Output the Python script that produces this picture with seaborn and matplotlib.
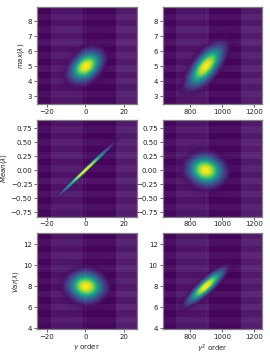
import numpy as np
import matplotlib
matplotlib.use("Agg")
import matplotlib.pyplot as plt
from matplotlib.colors import ListedColormap, LinearSegmentedColormap
import seaborn as sns

sns.set_style("white")
plt.rcParams.update({"font.size": 5, "mathtext.default": "it"})

# background tint bands
col_band_edges = [0.0, 0.14, 0.465, 0.79, 1.0]
col_band_tint = [0.0, 0.4, 0.0, 0.55]
row_band_tint = [0.0, 0.3, 0.0, 0.35, 0.05, 0.35, 0.0, 0.3, 0.0, 0.4, 0.0, 0.35, 0.0, 0.3, 0.1]

y_labels = [r"$max(\lambda)$", r"$Mean(\lambda)$", r"$Var(\lambda)$"]
x_labels = [r"$\gamma$ order", r"$\gamma^2$ order"]
x_ticks = [[-20, 0, 20], [800, 1000, 1200]]
x_limits = [(-25, 26.6), (628, 1250)]
y_limits = [(2.5, 8.95), (-0.83, 0.9), (3.9, 13.1)]
y_ticks = [[3, 4, 5, 6, 7, 8],
           [-0.75, -0.50, -0.25, 0.00, 0.25, 0.50, 0.75],
           [4, 6, 8, 10, 12]]
y_fmt = ["%d", "%.2f", "%d"]

# sample clouds (x, y) estimated for each panel
p11_x = [-3.7, -1.8, 0.3, 2.4, 4.3, 0.8, -0.2]
p11_y = [4.75, 4.87, 5.0, 5.13, 5.25, 4.5, 5.5]
p12_x = [845, 870, 897, 925, 950, 908, 887]
p12_y = [4.45, 4.72, 5.0, 5.28, 5.55, 4.55, 5.45]
p21_x = [-6.0, -3.0, 0.0, 3.0, 5.8, 0.7, -0.7]
p21_y = [-0.195, -0.097, 0.0, 0.097, 0.19, 0.04, -0.04]
p22_x = [843, 870, 897, 925, 951, 897, 897]
p22_y = [0.0, 0.03, 0.0, -0.03, 0.0, -0.145, 0.145]
p31_x = [-4.2, -2.0, 0.3, 2.6, 4.8, 0.3, 0.3]
p31_y = [8.0, 8.1, 8.0, 7.9, 8.0, 7.25, 8.75]
p32_x = [845, 870, 897, 925, 950, 912, 882]
p32_y = [7.25, 7.62, 8.0, 8.38, 8.75, 7.8, 8.2]
panel_x = [[p11_x, p12_x], [p21_x, p22_x], [p31_x, p32_x]]
panel_y = [[p11_y, p12_y], [p21_y, p22_y], [p31_y, p32_y]]

base = plt.get_cmap("viridis")(np.linspace(0, 1, 256))
base[:, 3] = np.clip(np.linspace(0, 1, 256) / 0.10, 0, 1)
ramp = ListedColormap(base)
tint_cmap = LinearSegmentedColormap.from_list("tint", ["#44045a", "#5c2a78"])

fig, axes = plt.subplots(3, 2, figsize=(2.7, 3.6), dpi=100)
fig.subplots_adjust(left=0.137, right=0.971, top=0.98, bottom=0.085, wspace=0.26, hspace=0.17)

for r in range(3):
    for c in range(2):
        ax = axes[r, c]
        cols = np.array(col_band_tint)[None, :]
        rows = np.array(row_band_tint)[:, None]
        ax.pcolormesh(col_band_edges, np.linspace(1, 0, len(row_band_tint) + 1),
                      rows + cols, cmap=tint_cmap, vmin=0, vmax=1,
                      transform=ax.transAxes, zorder=0)
        sns.kdeplot(x=panel_x[r][c], y=panel_y[r][c], fill=True, levels=60, thresh=0.002,
                    cmap=ramp, gridsize=200, bw_adjust=2.0, ax=ax, zorder=1)
        ax.set_xlim(x_limits[c])
        ax.set_ylim(y_limits[r])
        ax.set_xticks(x_ticks[c])
        ax.set_yticks(y_ticks[r])
        ax.set_yticklabels([y_fmt[r] % v if v >= 0 else "\u2212" + y_fmt[r] % -v for v in y_ticks[r]])
        ax.axvline(x_ticks[c][1] if c == 0 else 897, color="white", alpha=0.07, lw=0.5, zorder=2)
        ax.axhline(np.mean(y_limits[r]) + 0.14 * np.ptp(y_limits[r]), color="white", alpha=0.06, lw=0.5, zorder=2)
        ax.tick_params(length=2, width=0.5, pad=1.5, labelsize=5, colors="#222222", left=True, bottom=True)
        for s in ax.spines.values():
            s.set_color("#808080")
            s.set_linewidth(0.9)
        ax.set_xlabel(x_labels[c] if r == 2 else "", fontsize=5, labelpad=1.5)
        ax.set_ylabel(y_labels[r] if c == 0 else "", fontsize=5, labelpad=1.5)

fig.savefig("out.png", dpi=100)
